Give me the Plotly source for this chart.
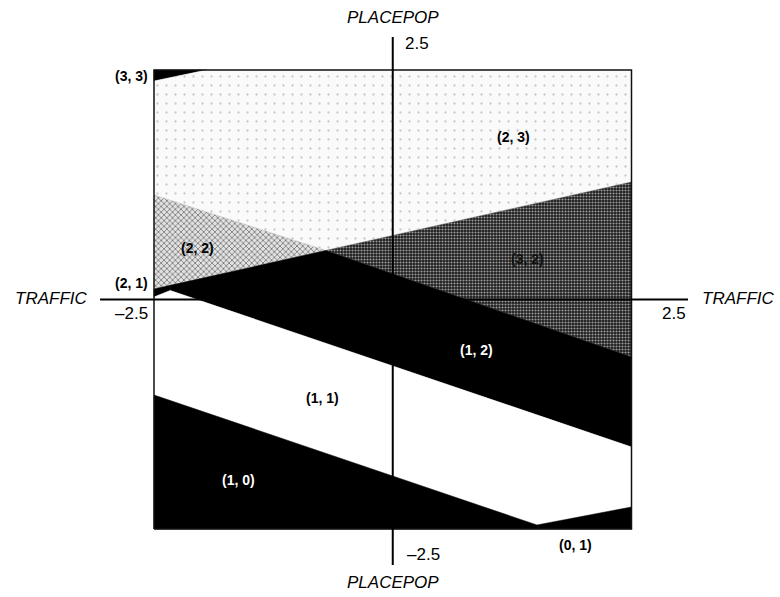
import plotly.graph_objects as go

# ---------------- data ----------------
region_labels = ["(3, 3)", "(2, 3)", "(2, 2)", "(3, 2)", "(2, 1)", "(1, 2)", "(1, 1)", "(1, 0)", "(0, 1)"]

poly_x = {
    "(3, 3)": [-2.5, -1.95, -2.5],
    "(2, 3)": [-2.5, -1.95, 2.5, 2.5, -0.70, -2.5],
    "(2, 2)": [-2.5, -0.70, -2.5],
    "(3, 2)": [-0.70, 2.5, 2.5],
    "(2, 1)": [-2.5, -2.5, -2.33, -2.33],
    "(1, 2)": [-2.33, -0.70, 2.5, 2.5, -2.33],
    "(1, 1)": [-2.5, -2.33, 2.5, 2.5, 1.51, -2.5],
    "(1, 0)": [-2.5, 1.51, 1.53, -2.5],
    "(0, 1)": [1.51, 2.5, 2.5, 1.53],
}
poly_y = {
    "(3, 3)": [2.5, 2.5, 2.38],
    "(2, 3)": [2.38, 2.5, 2.5, 1.28, 0.534, 1.138],
    "(2, 2)": [1.138, 0.534, 0.114],
    "(3, 2)": [0.534, 1.28, -0.626],
    "(2, 1)": [0.027, 0.114, 0.154, 0.098],
    "(1, 2)": [0.154, 0.534, -0.626, -1.607, 0.098],
    "(1, 1)": [0.027, 0.098, -1.607, -2.26, -2.456, -1.04],
    "(1, 0)": [-1.04, -2.456, -2.5, -2.5],
    "(0, 1)": [-2.456, -2.26, -2.5, -2.5],
}
label_x = [-2.54, 1.26, -2.04, 1.406, -2.54, 0.882, -0.731, -1.62, 1.909]
label_y = [2.435, 1.77, 0.561, 0.441, 0.18, -0.55, -1.073, -1.966, -2.674]

region_fill = {
    "(3, 3)": "#000000", "(2, 3)": "#f6f6f6", "(2, 2)": "#c0c0c0", "(3, 2)": "#505050",
    "(2, 1)": "#000000", "(1, 2)": "#000000", "(1, 1)": "#ffffff", "(1, 0)": "#000000",
    "(0, 1)": "#000000",
}
# print-like stipple textures of the shaded regions
region_pattern = {
    "(2, 3)": dict(shape=".", bgcolor="#fafafa", fgcolor="#c8c8c8", size=9, solidity=0.05, fillmode="replace"),
    "(2, 2)": dict(shape="x", bgcolor="#e2e2e2", fgcolor="#6e6e6e", size=4, solidity=0.35, fillmode="replace"),
    "(3, 2)": dict(shape=".", bgcolor="#1c1c1c", fgcolor="#9c9c9c", size=3, solidity=0.4, fillmode="replace"),
}
label_color = {
    "(3, 3)": "#000", "(2, 3)": "#000", "(2, 2)": "#000", "(3, 2)": "#111",
    "(2, 1)": "#000", "(1, 2)": "#fff", "(1, 1)": "#000", "(1, 0)": "#fff", "(0, 1)": "#000",
}
label_anchor = {"(3, 3)": "right", "(2, 1)": "right"}

axis_min, axis_max = -2.5, 2.5
x_axis_name = "TRAFFIC"
y_axis_name = "PLACEPOP"

# ---------------- figure ----------------
fig = go.Figure()

for r in region_labels:
    kw = {}
    if r in region_pattern:
        kw["fillpattern"] = region_pattern[r]
    fig.add_trace(go.Scatter(
        x=poly_x[r] + [poly_x[r][0]], y=poly_y[r] + [poly_y[r][0]],
        mode="lines", fill="toself", fillcolor=region_fill[r],
        line=dict(width=0.5, color=region_fill[r]), hoverinfo="skip", showlegend=False, **kw))

# frame of the region
fig.add_trace(go.Scatter(
    x=[axis_min, axis_max, axis_max, axis_min, axis_min],
    y=[axis_min, axis_min, axis_max, axis_max, axis_min],
    mode="lines", line=dict(color="#111", width=1.5), hoverinfo="skip", showlegend=False))

# crossing axes
fig.add_trace(go.Scatter(x=[-3.065, 3.092], y=[0, 0], mode="lines",
                         line=dict(color="#000", width=2), hoverinfo="skip", showlegend=False))
fig.add_trace(go.Scatter(x=[0, 0], y=[-2.892, 2.86], mode="lines",
                         line=dict(color="#000", width=2), hoverinfo="skip", showlegend=False))

for r, lx, ly in zip(region_labels, label_x, label_y):
    fig.add_annotation(x=lx, y=ly, text="<b>%s</b>" % r, showarrow=False,
                       xanchor=label_anchor.get(r, "center"),
                       font=dict(family="Liberation Sans, Arial", size=14, color=label_color[r]))

axis_font = dict(family="Liberation Sans, Arial", size=17, color="#000")
fig.add_annotation(x=0, y=3.077, text="<i>%s</i>" % y_axis_name, showarrow=False, font=axis_font)
fig.add_annotation(x=0, y=-3.088, text="<i>%s</i>" % y_axis_name, showarrow=False, font=axis_font)
fig.add_annotation(x=-3.18, y=0.016, text="<i>%s</i>" % x_axis_name, showarrow=False,
                   xanchor="right", font=axis_font)
fig.add_annotation(x=3.217, y=0.016, text="<i>%s</i>" % x_axis_name, showarrow=False,
                   xanchor="left", font=axis_font)
fig.add_annotation(x=0.106, y=2.794, text="%g" % axis_max, showarrow=False, xanchor="left", font=axis_font)
fig.add_annotation(x=0.13, y=-2.783, text="–%g" % abs(axis_min), showarrow=False, xanchor="left", font=axis_font)
fig.add_annotation(x=-2.54, y=-0.147, text="–%g" % abs(axis_min), showarrow=False, xanchor="right", font=axis_font)
fig.add_annotation(x=3.092, y=-0.147, text="%g" % axis_max, showarrow=False, xanchor="right", font=axis_font)

fig.update_layout(
    width=780, height=597, margin=dict(l=0, r=0, t=0, b=0),
    paper_bgcolor="white", plot_bgcolor="white", showlegend=False,
    xaxis=dict(range=[-4.1126, 4.055], visible=False, fixedrange=True),
    yaxis=dict(range=[-3.2407, 3.2625], visible=False, fixedrange=True),
)
fig.write_html("out.html", config={"displayModeBar": False},
               post_script="document.body.style.margin='0px';document.body.style.overflow='hidden';")
